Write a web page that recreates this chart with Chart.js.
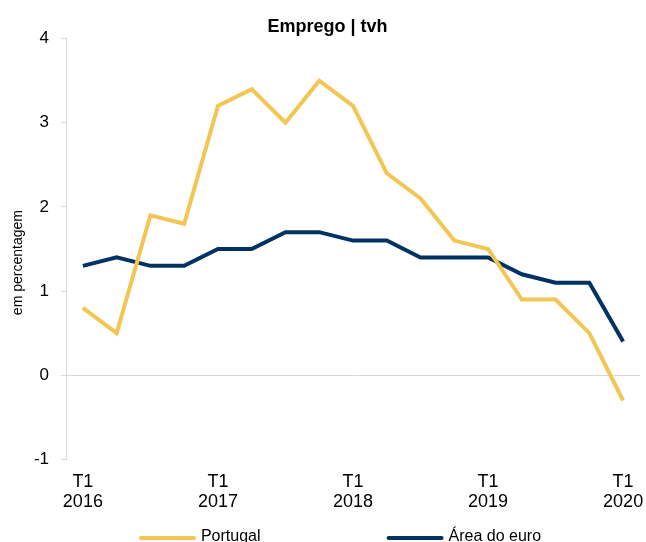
<!DOCTYPE html>
<html><head><meta charset="utf-8">
<script src="https://cdn.jsdelivr.net/npm/chart.js@4.4.0/dist/chart.umd.min.js"></script>
<style>html,body{margin:0;padding:0;overflow:hidden;background:#fff}</style>
</head><body><canvas id="c" width="646" height="542"></canvas>
<script>
const quarters = ['2016T1','2016T2','2016T3','2016T4','2017T1','2017T2','2017T3','2017T4','2018T1','2018T2','2018T3','2018T4','2019T1','2019T2','2019T3','2019T4','2020T1'];
const tickLabels = {0:['T1','2016'],4:['T1','2017'],8:['T1','2018'],12:['T1','2019'],16:['T1','2020']};
const portugal = [0.8,0.5,1.9,1.8,3.2,3.4,3.0,3.5,3.2,2.4,2.1,1.6,1.5,0.9,0.9,0.5,-0.3];
const areaEuro = [1.3,1.4,1.3,1.3,1.5,1.5,1.7,1.7,1.6,1.6,1.4,1.4,1.4,1.2,1.1,1.1,0.4];
const yTicks = [-1,0,1,2,3,4];

const font = 'Arial, "Liberation Sans", sans-serif';
const yellow = '#F3C653', navy = '#003263';

const bottomLegend = {
  id: 'bottomLegend',
  afterDraw(chart) {
    const ctx = chart.ctx;
    const items = chart.data.datasets.map(d => ({label: d.label, color: d.borderColor}));
    ctx.save();
    ctx.font = '16px ' + font;
    const lineW = 57, textGap = 5, itemGap = 126;
    const widths = items.map(it => lineW + textGap + ctx.measureText(it.label).width);
    const total = widths.reduce((a, b) => a + b, 0) + itemGap * (items.length - 1);
    let x = 340 - total / 2;
    const y = 537;
    items.forEach((it, i) => {
      ctx.strokeStyle = it.color; ctx.lineWidth = 4; ctx.lineCap = 'round';
      ctx.beginPath(); ctx.moveTo(x + 2, y + 1); ctx.lineTo(x + lineW - 2, y + 1); ctx.stroke();
      ctx.fillStyle = '#000'; ctx.textBaseline = 'middle'; ctx.textAlign = 'left';
      ctx.fillText(it.label, x + lineW + textGap, y);
      x += widths[i] + itemGap;
    });
    ctx.restore();
  }
};

new Chart(document.getElementById('c'), {
  type: 'line',
  data: {
    labels: quarters,
    datasets: [
      {label:'Portugal', data: portugal, borderColor: yellow, backgroundColor: yellow, borderWidth: 4, pointRadius: 0, tension: 0},
      {label:'Área do euro', data: areaEuro, borderColor: navy, backgroundColor: navy, borderWidth: 4, pointRadius: 0, tension: 0}
    ]
  },
  plugins: [bottomLegend],
  options: {
    responsive: false, animation: false,
    layout: {padding: {left: 0, right: 6, top: 0, bottom: 17}},
    plugins: {
      title: {display: true, text: '\u00a0\u00a0\u00a0Emprego | tvh', color: '#000', font: {family: font, size: 18, weight: 'bold', lineHeight: 1.2}, padding: {top: 16, bottom: 1}},
      legend: {display: false},
      tooltip: {enabled: false}
    },
    scales: {
      x: {
        offset: true,
        afterFit: s => { s.paddingLeft = 0; s.paddingRight = 0; },
        grid: {display: false, drawTicks: false},
        border: {display: false},
        ticks: {autoSkip: false, maxRotation: 0, color: '#000', font: {family: font, size: 18, lineHeight: 1.1}, padding: 13,
          callback: (v, i) => tickLabels[i] || ''}
      },
      y: {
        min: -1, max: 4,
        afterFit: s => { s.width = 66; },
        afterBuildTicks: s => { s.ticks = yTicks.map(v => ({value: v})); },
        title: {display: true, text: 'em percentagem\u00a0\u00a0\u00a0\u00a0\u00a0\u00a0\u00a0', color: '#000', font: {family: font, size: 14}, padding: {top: 10, bottom: 0}},
        border: {color: '#d9d9d9', width: 1},
        grid: {color: c => c.tick && c.tick.value === 0 ? '#d9d9d9' : 'rgba(0,0,0,0)', tickColor: '#d9d9d9', tickLength: 5, lineWidth: 1},
        ticks: {color: '#000', font: {family: font, size: 17}, padding: 12}
      }
    }
  }
});
</script></body></html>
